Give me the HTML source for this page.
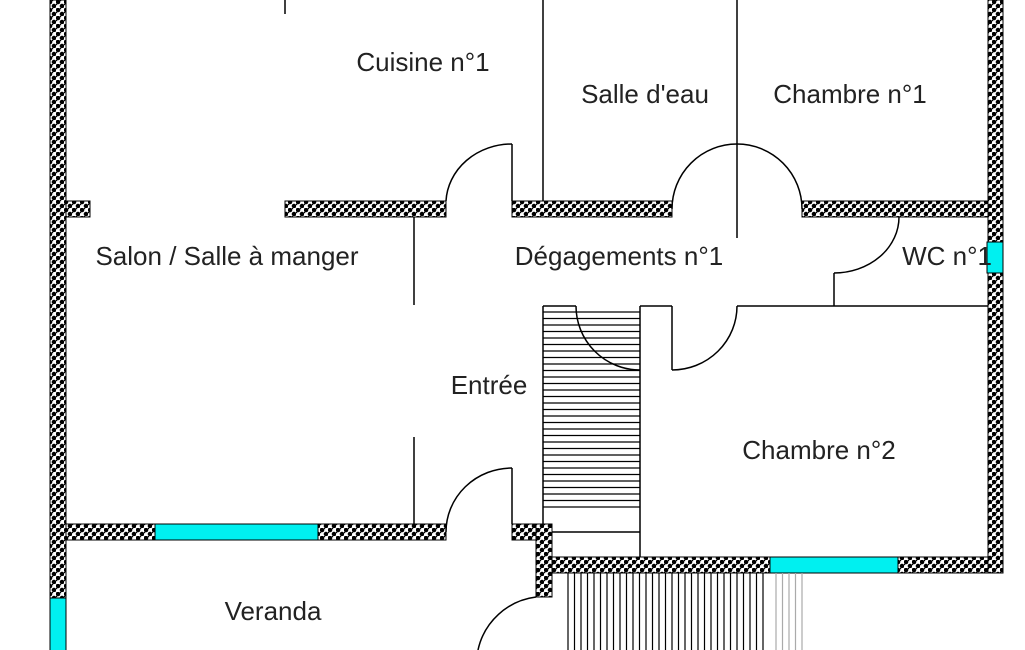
<!DOCTYPE html>
<html><head><meta charset="utf-8"><style>
html,body{margin:0;padding:0;background:#fff;}
svg{display:block;}
text{font-family:"Liberation Sans",Arial,sans-serif;font-size:26px;fill:#222;text-anchor:middle;}
</style></head><body>
<svg width="1025" height="650" viewBox="0 0 1025 650" xmlns="http://www.w3.org/2000/svg">
<defs>
<pattern id="w" width="8" height="8" patternUnits="userSpaceOnUse">
<rect width="8" height="8" fill="#fff"/>
<circle cx="2" cy="2" r="2.3" fill="#000"/>
<circle cx="6" cy="6" r="2.3" fill="#000"/>
<rect x="4" y="0" width="1.2" height="1.2" fill="#000"/>
<rect x="0" y="4" width="1.2" height="1.2" fill="#000"/>
</pattern>
</defs>
<g fill="url(#w)" stroke="#000" stroke-width="1">
<rect x="50" y="0" width="16" height="598"/>
<rect x="66" y="201" width="24" height="16"/>
<rect x="285" y="201" width="161" height="16"/>
<rect x="512" y="201" width="160" height="16"/>
<rect x="802" y="201" width="186" height="16"/>
<rect x="988" y="0" width="15" height="573"/>
<rect x="66" y="524" width="380" height="16"/>
<rect x="512" y="524" width="40" height="16"/>
<rect x="536" y="524" width="16" height="73"/>
<rect x="552" y="557" width="436" height="16"/>
</g>
<g fill="#00f0f0" stroke="#000" stroke-width="1">
<rect x="155" y="524" width="163" height="16"/>
<rect x="50" y="598" width="16" height="60"/>
<rect x="770" y="557" width="128" height="16"/>
<rect x="987" y="242" width="16" height="31"/>
</g>
<g stroke="#000" stroke-width="1.5" fill="none">
<line x1="285" y1="0" x2="285" y2="14"/>
<line x1="543" y1="0" x2="543" y2="201"/>
<line x1="737" y1="0" x2="737" y2="238"/>
<line x1="414" y1="217" x2="414" y2="305"/>
<line x1="414" y1="437" x2="414" y2="524"/>
<line x1="512" y1="144" x2="512" y2="201"/>
<path d="M512 144 A66 60 0 0 0 446 201"/>
<path d="M672 209 A65 65 0 0 1 802 209"/>
<path d="M899 217 A65 56 0 0 1 834 273"/>
<line x1="834" y1="273" x2="834" y2="306"/>
<line x1="737" y1="306" x2="988" y2="306"/>
<line x1="640" y1="306" x2="672" y2="306"/>
<line x1="672" y1="306" x2="672" y2="370"/>
<path d="M672 370 A65 64 0 0 0 737 306"/>
<line x1="640" y1="306" x2="640" y2="557"/>
<line x1="543" y1="306" x2="543" y2="524"/>
<line x1="543" y1="306" x2="576" y2="306"/>
<line x1="552" y1="532" x2="640" y2="532"/>
<path d="M576 306 A64 64 0 0 0 640 370"/>
<line x1="512" y1="468" x2="512" y2="524"/>
<path d="M512 468 A66 64 0 0 0 446 532"/>
<path d="M536 597 A68 68 0 0 0 478 650"/>
</g>
<g stroke="#000" stroke-width="1.2">
<line x1="543" y1="312" x2="640" y2="312"/><line x1="543" y1="318.5" x2="640" y2="318.5"/><line x1="543" y1="325" x2="640" y2="325"/><line x1="543" y1="331.5" x2="640" y2="331.5"/><line x1="543" y1="338" x2="640" y2="338"/><line x1="543" y1="344.5" x2="640" y2="344.5"/><line x1="543" y1="351" x2="640" y2="351"/><line x1="543" y1="357.5" x2="640" y2="357.5"/><line x1="543" y1="364" x2="640" y2="364"/><line x1="543" y1="370.5" x2="640" y2="370.5"/><line x1="543" y1="377" x2="640" y2="377"/><line x1="543" y1="383.5" x2="640" y2="383.5"/><line x1="543" y1="390" x2="640" y2="390"/><line x1="543" y1="396.5" x2="640" y2="396.5"/><line x1="543" y1="403" x2="640" y2="403"/><line x1="543" y1="409.5" x2="640" y2="409.5"/><line x1="543" y1="416" x2="640" y2="416"/><line x1="543" y1="422.5" x2="640" y2="422.5"/><line x1="543" y1="429" x2="640" y2="429"/><line x1="543" y1="435.5" x2="640" y2="435.5"/><line x1="543" y1="442" x2="640" y2="442"/><line x1="543" y1="448.5" x2="640" y2="448.5"/><line x1="543" y1="455" x2="640" y2="455"/><line x1="543" y1="461.5" x2="640" y2="461.5"/><line x1="543" y1="468" x2="640" y2="468"/><line x1="543" y1="474.5" x2="640" y2="474.5"/><line x1="543" y1="481" x2="640" y2="481"/><line x1="543" y1="487.5" x2="640" y2="487.5"/><line x1="543" y1="494" x2="640" y2="494"/><line x1="543" y1="500.5" x2="640" y2="500.5"/><line x1="543" y1="507" x2="640" y2="507"/>
</g>
<g stroke="#000" stroke-width="1.2">
<line x1="568" y1="573" x2="568" y2="650"/><line x1="574.5" y1="573" x2="574.5" y2="650"/><line x1="581" y1="573" x2="581" y2="650"/><line x1="587.5" y1="573" x2="587.5" y2="650"/><line x1="594" y1="573" x2="594" y2="650"/><line x1="600.5" y1="573" x2="600.5" y2="650"/><line x1="607" y1="573" x2="607" y2="650"/><line x1="613.5" y1="573" x2="613.5" y2="650"/><line x1="620" y1="573" x2="620" y2="650"/><line x1="626.5" y1="573" x2="626.5" y2="650"/><line x1="633" y1="573" x2="633" y2="650"/><line x1="639.5" y1="573" x2="639.5" y2="650"/><line x1="646" y1="573" x2="646" y2="650"/><line x1="652.5" y1="573" x2="652.5" y2="650"/><line x1="659" y1="573" x2="659" y2="650"/><line x1="665.5" y1="573" x2="665.5" y2="650"/><line x1="672" y1="573" x2="672" y2="650"/><line x1="678.5" y1="573" x2="678.5" y2="650"/><line x1="685" y1="573" x2="685" y2="650"/><line x1="691.5" y1="573" x2="691.5" y2="650"/><line x1="698" y1="573" x2="698" y2="650"/><line x1="704.5" y1="573" x2="704.5" y2="650"/><line x1="711" y1="573" x2="711" y2="650"/><line x1="717.5" y1="573" x2="717.5" y2="650"/><line x1="724" y1="573" x2="724" y2="650"/><line x1="730.5" y1="573" x2="730.5" y2="650"/><line x1="737" y1="573" x2="737" y2="650"/><line x1="743.5" y1="573" x2="743.5" y2="650"/><line x1="750" y1="573" x2="750" y2="650"/><line x1="756.5" y1="573" x2="756.5" y2="650"/><line x1="763" y1="573" x2="763" y2="650"/>
</g>
<g stroke="#aaa" stroke-width="1.2">
<line x1="776" y1="573" x2="776" y2="650"/><line x1="782.5" y1="573" x2="782.5" y2="650"/><line x1="789" y1="573" x2="789" y2="650"/><line x1="795.5" y1="573" x2="795.5" y2="650"/><line x1="802" y1="573" x2="802" y2="650"/>
</g>
<text x="423" y="71">Cuisine n°1</text>
<text x="645" y="103">Salle d'eau</text>
<text x="850" y="103">Chambre n°1</text>
<text x="227" y="265">Salon / Salle à manger</text>
<text x="619" y="265">Dégagements n°1</text>
<text x="947" y="265">WC n°1</text>
<text x="489" y="394">Entrée</text>
<text x="819" y="459">Chambre n°2</text>
<text x="273" y="620">Veranda</text>
</svg>
</body></html>
